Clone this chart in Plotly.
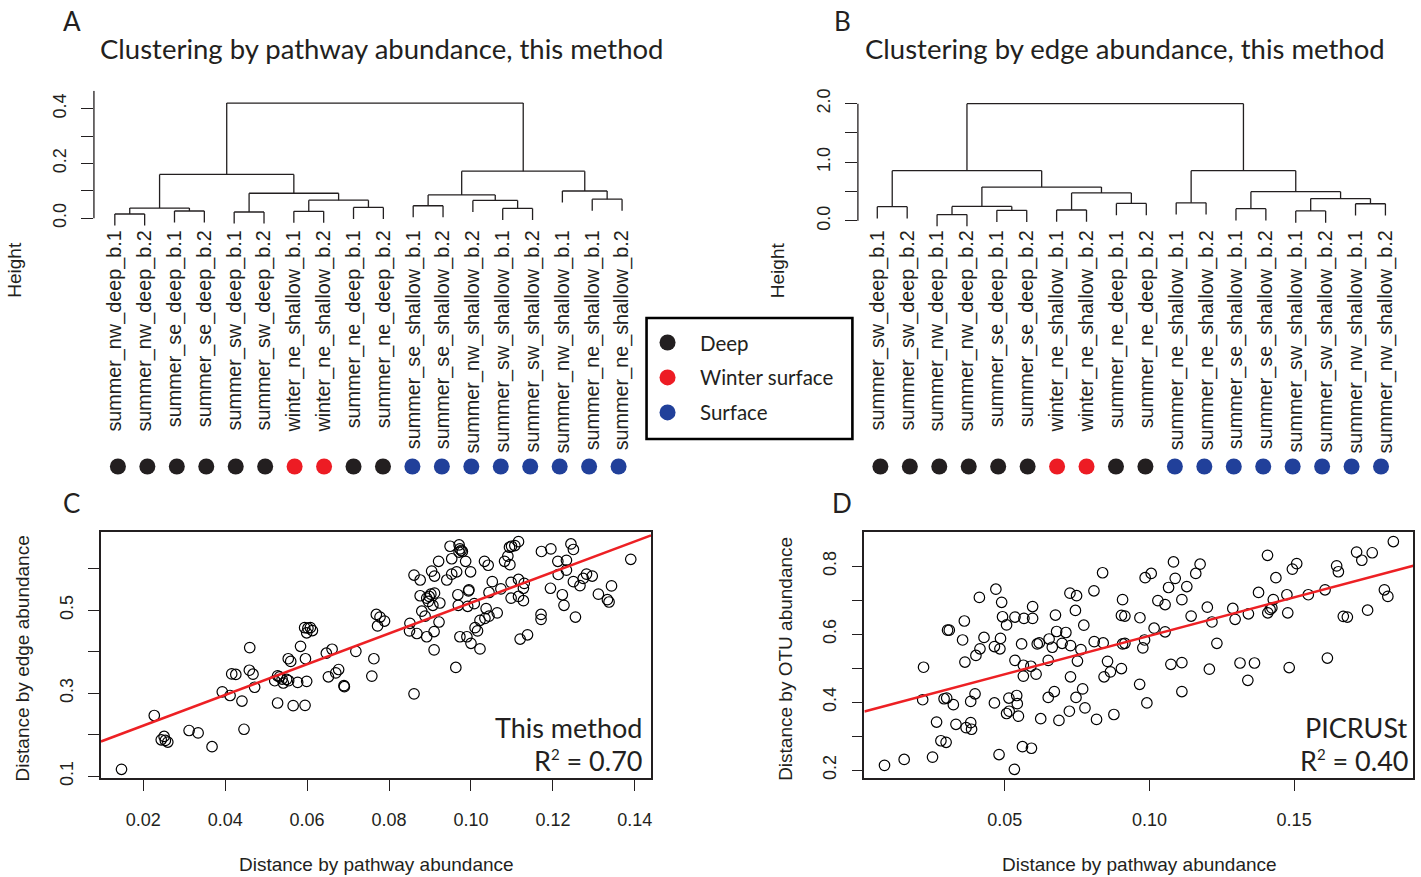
import plotly.graph_objects as go

W, H = 1421, 877
def fx(p): return p / W
def fy(p): return 1 - p / H

# ---------------- data ----------------
A_labels = ["summer_nw_deep_b.1", "summer_nw_deep_b.2", "summer_se_deep_b.1", "summer_se_deep_b.2",
            "summer_sw_deep_b.1", "summer_sw_deep_b.2", "winter_ne_shallow_b.1", "winter_ne_shallow_b.2",
            "summer_ne_deep_b.1", "summer_ne_deep_b.2", "summer_se_shallow_b.1", "summer_se_shallow_b.2",
            "summer_nw_shallow_b.2", "summer_sw_shallow_b.1", "summer_sw_shallow_b.2", "summer_nw_shallow_b.1",
            "summer_ne_shallow_b.1", "summer_ne_shallow_b.2"]
A_groups = ["Deep"] * 6 + ["Winter surface"] * 2 + ["Deep"] * 2 + ["Surface"] * 8
# R-style merge table (negative = leaf in display order, positive = earlier merge)
A_merge = [(-1, -2), (-3, -4), (1, 2), (-5, -6), (-7, -8), (-9, -10), (5, 6), (4, 7), (3, 8),
           (-11, -12), (-14, -15), (-13, 11), (10, 12), (-17, -18), (-16, 14), (13, 15), (9, 16)]
A_height = [0.0156, 0.0264, 0.0372, 0.0228, 0.0252, 0.0396, 0.066, 0.0913, 0.1598,
            0.0456, 0.036, 0.065, 0.0853, 0.0697, 0.0995, 0.1718, 0.4204]

B_labels = ["summer_sw_deep_b.1", "summer_sw_deep_b.2", "summer_nw_deep_b.1", "summer_nw_deep_b.2",
            "summer_se_deep_b.1", "summer_se_deep_b.2", "winter_ne_shallow_b.1", "winter_ne_shallow_b.2",
            "summer_ne_deep_b.1", "summer_ne_deep_b.2", "summer_ne_shallow_b.1", "summer_ne_shallow_b.2",
            "summer_se_shallow_b.1", "summer_se_shallow_b.2", "summer_sw_shallow_b.1", "summer_sw_shallow_b.2",
            "summer_nw_shallow_b.1", "summer_nw_shallow_b.2"]
B_groups = ["Deep"] * 6 + ["Winter surface"] * 2 + ["Deep"] * 2 + ["Surface"] * 8
B_merge = [(-1, -2), (-3, -4), (-5, -6), (2, 3), (-7, -8), (-9, -10), (5, 6), (4, 7), (1, 8),
           (-11, -12), (-13, -14), (-15, -16), (-17, -18), (12, 13), (11, 14), (10, 15), (9, 16)]
B_height = [0.241, 0.106, 0.179, 0.246, 0.185, 0.297, 0.476, 0.576, 0.856,
            0.308, 0.207, 0.168, 0.291, 0.380, 0.498, 0.856, 2.0]

group_names = ["Deep", "Winter surface", "Surface"]
group_colors = {"Deep": "#231F20", "Winter surface": "#ED1C24", "Surface": "#21409A"}

C_x = [0.0147, 0.0227, 0.0251, 0.0244, 0.0254, 0.0260, 0.0312, 0.0334, 0.0368, 0.0446,
       0.0393, 0.0412, 0.0441, 0.0416, 0.0426, 0.0460, 0.0459, 0.0468, 0.0472, 0.0528,
       0.0521, 0.0528, 0.0533, 0.0539, 0.0542, 0.0555, 0.0550, 0.0566, 0.0595, 0.0554,
       0.0560, 0.0577, 0.0599, 0.0584, 0.0596, 0.0594, 0.0602, 0.0608, 0.0613, 0.0599,
       0.0647, 0.0661, 0.0652, 0.0670, 0.0677, 0.0690, 0.0691, 0.0719, 0.0758, 0.0763,
       0.0769, 0.0778, 0.0789, 0.0772,
       0.0861, 0.0851, 0.0850, 0.0868, 0.0892, 0.0910, 0.0922, 0.0910, 0.0861, 0.0876,
       0.0904, 0.0911, 0.0921, 0.0876, 0.0892, 0.0898, 0.0902, 0.0911, 0.0896, 0.0907,
       0.0924, 0.0880, 0.0888, 0.0949, 0.0971, 0.0973, 0.0976, 0.0979, 0.0971, 0.0953,
       0.0987, 0.0999, 0.0965, 0.0953, 0.0941, 0.0968, 0.0969, 0.0994, 0.0995, 0.0992,
       0.1008, 0.0973, 0.0990, 0.1000, 0.1022, 0.0963, 0.1010, 0.1016, 0.1022, 0.1034,
       0.1037, 0.1044, 0.1064, 0.1033, 0.1042, 0.1044, 0.1052, 0.1073, 0.1082, 0.1090,
       0.1095, 0.1094, 0.1099, 0.1107, 0.1116, 0.1098, 0.1116, 0.1130, 0.1128, 0.1098,
       0.1116, 0.1128, 0.1120, 0.1138, 0.1171, 0.1171, 0.1172, 0.1195, 0.1212, 0.1233,
       0.1244, 0.1250, 0.1213, 0.1233, 0.1194, 0.1223, 0.1227, 0.1255, 0.1250, 0.1266,
       0.1274, 0.1282, 0.1296, 0.1311, 0.1333, 0.1337, 0.1343, 0.1390]
C_y = [0.1166, 0.2462, 0.1957, 0.1877, 0.1862, 0.1822, 0.2100, 0.2043, 0.1711, 0.2130,
       0.3031, 0.2943, 0.2810, 0.3464, 0.3450, 0.4097, 0.3552, 0.3457, 0.3142, 0.2763,
       0.3299, 0.3418, 0.3393, 0.3339, 0.3244, 0.3299, 0.3332, 0.2699, 0.2706, 0.3829,
       0.3765, 0.3260, 0.3284, 0.4128, 0.3829, 0.4578, 0.4564, 0.4578, 0.4507, 0.4453,
       0.3962, 0.4057, 0.3393, 0.3488, 0.3569, 0.3180, 0.3156, 0.4007, 0.3410, 0.3829,
       0.4896, 0.4832, 0.4737, 0.4618,
       0.2983, 0.4682, 0.4500, 0.4436, 0.4358, 0.4483, 0.4713, 0.4043, 0.5844, 0.5725,
       0.5939, 0.5820, 0.6175, 0.5346, 0.5289, 0.5329, 0.5384, 0.5408, 0.5211, 0.5116,
       0.5171, 0.4974, 0.4855, 0.6538, 0.6569, 0.6474, 0.6436, 0.6412, 0.6396, 0.6237,
       0.6175, 0.5922, 0.5922, 0.5867, 0.5725, 0.5370, 0.5116, 0.5464, 0.5488, 0.5092,
       0.5156, 0.4358, 0.4358, 0.4200, 0.4066, 0.3619, 0.4578, 0.4500, 0.4754, 0.4801,
       0.5038, 0.4855, 0.4934, 0.6175, 0.6080, 0.5424, 0.5685, 0.5512, 0.6175, 0.6301,
       0.6095, 0.6514, 0.6538, 0.6554, 0.6649, 0.5668, 0.5739, 0.5644, 0.5526, 0.5289,
       0.5329, 0.5227, 0.4303, 0.4405, 0.4896, 0.4777, 0.6412, 0.6474, 0.6175, 0.6199,
       0.6593, 0.6460, 0.5858, 0.5962, 0.5526, 0.5370, 0.5116, 0.4832, 0.5685, 0.5590,
       0.5763, 0.5867, 0.5820, 0.5384, 0.5251, 0.5195, 0.5583, 0.6223]
C_fit = (0.148, 3.696)   # intercept, slope of the red regression line
C_r2 = "0.70"

D_x = [0.0084, 0.0152, 0.0250, 0.0279, 0.0297, 0.0264, 0.0331, 0.0366, 0.0382, 0.0385,
       0.0216, 0.0290, 0.0299, 0.0322, 0.0382, 0.0397, 0.0464, 0.0514, 0.0541, 0.0543,
       0.0506, 0.0515, 0.0547, 0.0480, 0.0561, 0.0592, 0.0533, 0.0624, 0.0687, 0.0723,
       0.0777, 0.0817, 0.0877, 0.0650, 0.0671, 0.0746, 0.0769, 0.0219, 0.0362, 0.0360,
       0.0400, 0.0414, 0.0428, 0.0464, 0.0483, 0.0485, 0.0412, 0.0469, 0.0489, 0.0492,
       0.0506, 0.0535, 0.0566, 0.0596, 0.0596, 0.0302, 0.0308, 0.0354, 0.0535, 0.0558,
       0.0564, 0.0590, 0.0564, 0.0608, 0.0612, 0.0619, 0.0653, 0.0664, 0.0679, 0.0698,
       0.0711, 0.0727, 0.0763, 0.0650, 0.0675, 0.0725, 0.0748, 0.0744, 0.0773, 0.0808,
       0.0838, 0.0809, 0.0840, 0.0855, 0.0865, 0.0843, 0.0727, 0.0751, 0.0907, 0.0903,
       0.0915, 0.0907, 0.0915, 0.0903,
       0.0967, 0.0985, 0.1006, 0.0983, 0.0977, 0.0966, 0.0991, 0.1016, 0.1054, 0.1029,
       0.1054, 0.1066, 0.1083, 0.1089, 0.1129, 0.1112, 0.1144, 0.1160, 0.1175, 0.1074,
       0.1112, 0.1112, 0.1200, 0.1216, 0.1233, 0.1207, 0.1288, 0.1296, 0.1342, 0.1313,
       0.1363, 0.1340, 0.1377, 0.1408, 0.1437, 0.1409, 0.1417, 0.1423, 0.1428, 0.1475,
       0.1478, 0.1483, 0.1494, 0.1509, 0.1549, 0.1607, 0.1615, 0.1647, 0.1653, 0.1670,
       0.1684, 0.1716, 0.1734, 0.1770, 0.1754, 0.1812, 0.1824, 0.1843]
D_y = [0.2145, 0.2318, 0.2388, 0.2868, 0.2822, 0.3417, 0.3351, 0.3255, 0.3400, 0.3206,
       0.4074, 0.4103, 0.4123, 0.3929, 0.4025, 0.4248, 0.3979, 0.4123, 0.4198, 0.3958,
       0.3669, 0.3736, 0.3591, 0.2463, 0.2694, 0.2648, 0.2029, 0.3516, 0.3467, 0.3736,
       0.3834, 0.3496, 0.3640, 0.4141, 0.4314, 0.4141, 0.4392, 0.5029, 0.5182, 0.6388,
       0.5376, 0.5570, 0.5905, 0.5636, 0.5570, 0.5876, 0.7082, 0.7323, 0.6938, 0.6513,
       0.6272, 0.6504, 0.6466, 0.6466, 0.6813, 0.6119, 0.6119, 0.5830, 0.5231, 0.5714,
       0.5087, 0.5058, 0.4768, 0.4826, 0.5714, 0.5743, 0.5859, 0.5616, 0.6079, 0.5732,
       0.6050, 0.5665, 0.5549, 0.5231, 0.6562, 0.7207, 0.7132, 0.6698, 0.6264, 0.7276,
       0.7806, 0.5781, 0.5743, 0.5202, 0.4893, 0.4748, 0.4748, 0.5211, 0.7016, 0.6553,
       0.6533, 0.5714, 0.5732, 0.4991,
       0.6484, 0.7661, 0.7785, 0.5830, 0.5598, 0.4528, 0.3979, 0.6177, 0.6070, 0.6987,
       0.6871, 0.7372, 0.8124, 0.7641, 0.7401, 0.7016, 0.6533, 0.7785, 0.8057, 0.5115,
       0.5165, 0.4314, 0.6793, 0.6359, 0.5732, 0.4971, 0.6756, 0.6437, 0.6599, 0.5153,
       0.5153, 0.4644, 0.7227, 0.8318, 0.7661, 0.6628, 0.6727, 0.6773, 0.7016, 0.7160,
       0.6628, 0.5020, 0.7913, 0.8075, 0.7160, 0.7305, 0.5298, 0.8008, 0.7835, 0.6524,
       0.6504, 0.8413, 0.8173, 0.8393, 0.6706, 0.7305, 0.7111, 0.8723]
D_fit = (0.3693, 2.260)
D_r2 = "0.40"

A_yticks = [0.0, 0.2, 0.4]
A_yminor = [0.1, 0.3]
B_yticks = [0.0, 1.0, 2.0]
B_yminor = [0.5, 1.5]
C_ticks = [0.02, 0.04, 0.06, 0.08, 0.10, 0.12, 0.14]
C_yticks = [0.1, 0.3, 0.5]
C_yminor = [0.2, 0.4, 0.6]
D_ticks = [0.05, 0.10, 0.15]
D_yticks = [0.2, 0.4, 0.6, 0.8]
D_yminor = [0.3, 0.5, 0.7]

# ---------------- styling constants ----------------
LAB = "Liberation Sans, Arial, sans-serif"
MYR = "Lato, Open Sans, sans-serif"
INK = "#231F20"
RED = "#ED2024"


def dendro_segments(merge, height, hang):
    pos = {}
    xs, ys = [], []
    for k, (a, b) in enumerate(merge, start=1):
        h = height[k - 1]
        cx = []
        for c in (a, b):
            if c < 0:
                x, t = -c, h - hang
            else:
                x, t = pos[c], height[c - 1]
            xs += [x, x, None]
            ys += [t, h, None]
            cx.append(x)
        xs += [cx[0], cx[1], None]
        ys += [h, h, None]
        pos[k] = (cx[0] + cx[1]) / 2
    return xs, ys


fig = go.Figure()

# dendrograms
for merge, height, xa, ya in [(A_merge, A_height, "x", "y"), (B_merge, B_height, "x2", "y2")]:
    xs, ys = dendro_segments(merge, height, 0.1 * max(height))
    fig.add_trace(go.Scatter(x=xs, y=ys, mode="lines", xaxis=xa, yaxis=ya,
                             line=dict(color=INK, width=1.3), showlegend=False, hoverinfo="skip"))

# group dots under the leaves
for groups, xa, ya in [(A_groups, "x3", "y3"), (B_groups, "x4", "y4")]:
    for g in group_names:
        idx = [i + 1 for i, v in enumerate(groups) if v == g]
        fig.add_trace(go.Scatter(x=idx, y=[0] * len(idx), mode="markers", xaxis=xa, yaxis=ya,
                                 marker=dict(size=16, color=group_colors[g]), name=g,
                                 showlegend=False))

# legend (drawn manually in its own small axis box)
fig.add_trace(go.Scatter(x=[0] * len(group_names), y=list(range(len(group_names))), mode="markers",
                         xaxis="x7", yaxis="y7", showlegend=False,
                         marker=dict(size=16, color=[group_colors[g] for g in group_names])))

# scatters
C_xr = [0.00968, 0.14395]
D_xr = [0.00145, 0.1912]
for xs, ys, fit, xr, xa, ya in [(C_x, C_y, C_fit, C_xr, "x5", "y5"), (D_x, D_y, D_fit, D_xr, "x6", "y6")]:
    fig.add_trace(go.Scatter(x=xs, y=ys, mode="markers", xaxis=xa, yaxis=ya, showlegend=False,
                             marker=dict(symbol="circle-open", size=10.5, color="black",
                                         line=dict(width=1.2, color="black"))))
    fig.add_trace(go.Scatter(x=xr, y=[fit[0] + fit[1] * v for v in xr], mode="lines",
                             xaxis=xa, yaxis=ya, showlegend=False,
                             line=dict(color=RED, width=2.6)))

def minor(vals, ln):
    return dict(tickmode="array", tickvals=vals, ticks="outside", ticklen=ln,
                tickwidth=1.3, tickcolor=INK, showgrid=False)

def dendro_x(dom, rng, labels, anchor):
    return dict(domain=[fx(dom[0]), fx(dom[1])], range=rng, anchor=anchor,
                tickmode="array", tickvals=list(range(1, 19)), ticktext=labels,
                tickangle=-90, ticks="", showgrid=False, zeroline=False, showline=False,
                tickfont=dict(family=LAB, size=19.8, color=INK), ticklabelstandoff=-2)

def dendro_y(dom, rng, vals, mvals, anchor):
    return dict(domain=[fy(dom[1]), fy(dom[0])], range=rng, anchor=anchor,
                tickmode="array", tickvals=vals, ticktext=["%.1f" % v for v in vals], tickangle=-90,
                ticks="outside", ticklen=12, tickwidth=1.3, tickcolor=INK,
                minor=minor(mvals, 12),
                showgrid=False, zeroline=False, showline=False,
                tickfont=dict(family=LAB, size=18, color=INK), ticklabelstandoff=8)

def sc_x(dom, rng, vals, anchor):
    return dict(domain=[fx(dom[0]), fx(dom[1])], range=rng, anchor=anchor,
                tickmode="array", tickvals=vals, ticktext=["%.2f" % v for v in vals],
                ticks="outside", ticklen=11, tickwidth=1.3, tickcolor=INK,
                showline=True, mirror=True, linecolor=INK, linewidth=1.5,
                showgrid=False, zeroline=False, tickangle=0,
                tickfont=dict(family=LAB, size=18, color=INK), ticklabelstandoff=14)

def sc_y(dom, rng, vals, mvals, anchor):
    return dict(domain=[fy(dom[1]), fy(dom[0])], range=rng, anchor=anchor,
                tickmode="array", tickvals=vals, ticktext=["%.1f" % v for v in vals], tickangle=-90,
                ticks="outside", ticklen=11, tickwidth=1.3, tickcolor=INK,
                minor=minor(mvals, 11),
                showline=True, mirror=True, linecolor=INK, linewidth=1.5,
                showgrid=False, zeroline=False,
                tickfont=dict(family=LAB, size=18, color=INK), ticklabelstandoff=8)

hidden = dict(visible=False, showgrid=False, zeroline=False)
layout = dict(
    width=W, height=H, margin=dict(l=0, r=0, t=0, b=0),
    paper_bgcolor="white", plot_bgcolor="white", showlegend=False,
    xaxis=dendro_x((94, 644), [0.300, 18.72], A_labels, "y"),
    yaxis=dendro_y((86, 225), [-0.0334, 0.4657], A_yticks, A_yminor, "x"),
    xaxis2=dendro_x((858.5, 1410), [0.3514, 18.789], B_labels, "y2"),
    yaxis2=dendro_y((90, 225), [-0.1126, 2.156], B_yticks, B_yminor, "x2"),
    xaxis3=dict(domain=[fx(94), fx(644)], range=[0.1856, 18.848], anchor="y3", **hidden),
    yaxis3=dict(domain=[fy(478), fy(458)], range=[-1, 1], anchor="x3", **hidden),
    xaxis4=dict(domain=[fx(858.5), fx(1410)], range=[0.2365, 18.95], anchor="y4", **hidden),
    yaxis4=dict(domain=[fy(478), fy(458)], range=[-1, 1], anchor="x4", **hidden),
    xaxis5=sc_x((101, 651.5), C_xr, C_ticks, "y5"),
    yaxis5=sc_y((535, 784.5), [0.0957, 0.687], C_yticks, C_yminor, "x5"),
    xaxis6=sc_x((865, 1414.3), D_xr, D_ticks, "y6"),
    yaxis6=sc_y((535, 784.3), [0.178, 0.899], D_yticks, D_yminor, "x6"),
    xaxis7=dict(domain=[fx(647), fx(853)], range=[-21, 185], anchor="y7", **hidden),
    yaxis7=dict(domain=[fy(440), fy(317)], range=[2.761, -0.704], anchor="x7", **hidden),
)
fig.update_layout(**layout)

# dendrogram axis lines (R draws them from first to last tick)
fig.add_shape(type="line", xref="x domain", yref="y", x0=0, x1=0, y0=0, y1=0.4657,
              line=dict(color=INK, width=1.3))
fig.add_shape(type="line", xref="x2 domain", yref="y2", x0=0, x1=0, y0=0, y1=2.0,
              line=dict(color=INK, width=1.3))
# legend frame
fig.add_shape(type="rect", xref="x7 domain", yref="y7 domain", x0=0, x1=1, y0=0, y1=1,
              line=dict(color="black", width=2.6), fillcolor="rgba(0,0,0,0)")
for i, g in enumerate(group_names):
    fig.add_annotation(text=g, x=30, y=i, xref="x7", yref="y7", showarrow=False,
                       xanchor="left", yanchor="middle",
                       font=dict(family=MYR, size=20.5, color=INK))

def ann(text, x, y, size, family, xanchor="center", yanchor="middle", angle=0):
    fig.add_annotation(text=text, x=fx(x), y=fy(y), xref="paper", yref="paper",
                       showarrow=False, xanchor=xanchor, yanchor=yanchor, textangle=angle,
                       font=dict(family=family, size=size, color=INK))

SUP = "R<sup><span style='font-size:15px'>2</span></sup> = "
ann("A", 72, 15, 26, MYR)
ann("B", 843, 15, 26, MYR)
ann("C", 72, 505, 26, MYR)
ann("D", 843, 505, 26, MYR)
ann("Clustering by pathway abundance, this method", 98, 43, 27.5, MYR, xanchor="left")
ann("Clustering by edge abundance, this method", 864, 43, 27.5, MYR, xanchor="left")
ann("Height", 15, 268, 19, LAB, angle=-90)
ann("Height", 778, 268, 19, LAB, angle=-90)
ann("Distance by edge abundance", 22, 663, 19, LAB, angle=-90)
ann("Distance by OTU abundance", 786, 663, 19, LAB, angle=-90)
ann("Distance by pathway abundance", 377, 872, 19, LAB)
ann("Distance by pathway abundance", 1140, 872, 19, LAB)
ann("This method", 644, 733, 27, MYR, xanchor="right")
ann(SUP + C_r2, 644, 767, 27, MYR, xanchor="right")
ann("PICRUSt", 1411, 733, 27, MYR, xanchor="right")
ann(SUP + D_r2, 1411, 767, 27, MYR, xanchor="right")

fig.write_html("out.html", config={"displayModeBar": False},
               post_script="document.body.style.margin='0px';")
